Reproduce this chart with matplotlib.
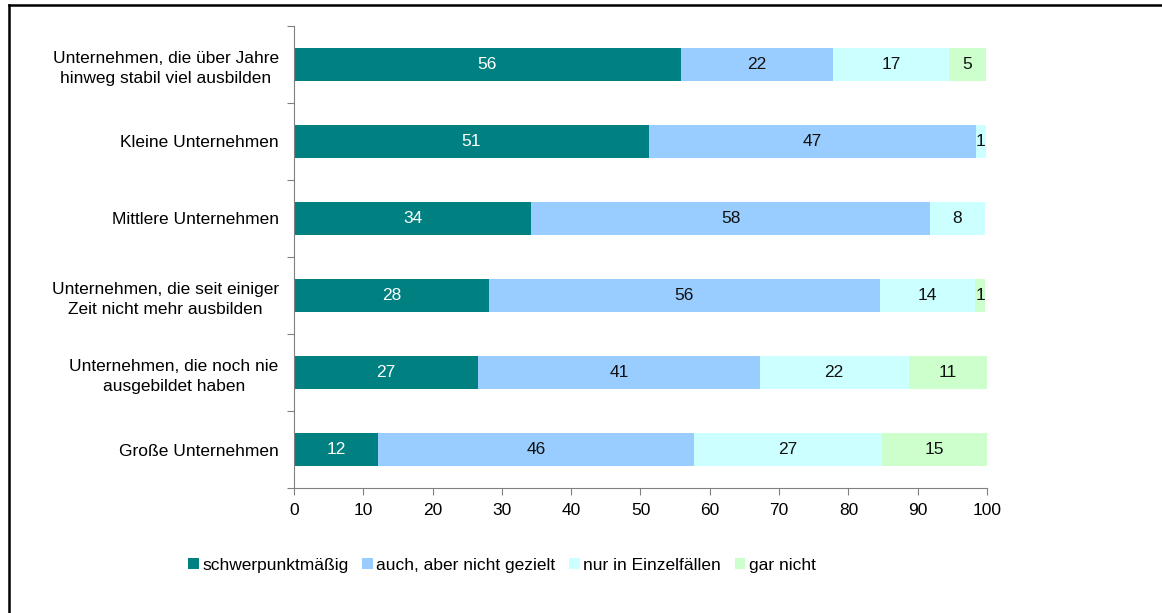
import matplotlib
matplotlib.use("Agg")
import matplotlib.pyplot as plt
from matplotlib.lines import Line2D
import numpy as np

plt.rcParams["font.family"] = ["Liberation Sans", "DejaVu Sans"]
plt.rcParams["font.size"] = 12.5

categories = [
    "Unternehmen, die über Jahre\nhinweg stabil viel ausbilden",
    "Kleine Unternehmen",
    "Mittlere Unternehmen",
    "Unternehmen, die seit einiger\nZeit nicht mehr ausbilden",
    "Unternehmen, die noch nie\nausgebildet haben",
    "Große Unternehmen",
]
series_names = ["schwerpunktmäßig", "auch, aber nicht gezielt", "nur in Einzelfällen", "gar nicht"]
schwerpunkt = [55.8, 51.2, 34.2, 28.1, 26.6, 12.1]
auch = [22.0, 47.2, 57.6, 56.4, 40.6, 45.6]
einzelfaelle = [16.7, 1.4, 7.9, 13.8, 21.5, 27.2]
gar_nicht = [5.4, 0.0, 0.0, 1.4, 11.3, 15.1]

colors = ["#008080", "#99CCFF", "#CCFFFF", "#CCFFCC"]
text_colors = ["white", "#111111", "#111111", "#111111"]

fig = plt.figure(figsize=(11.62, 6.13), dpi=100)
ax = fig.add_axes([0.253, 0.2039, 0.5964, 0.7537])

y = np.arange(len(categories))
left = np.zeros(len(categories))
for name, vals, col, tcol in zip(series_names, [schwerpunkt, auch, einzelfaelle, gar_nicht], colors, text_colors):
    vals = np.array(vals)
    ax.barh(y, vals, left=left, height=0.42, color=col, label=name, edgecolor="none")
    for yi, l, v in zip(y, left, vals):
        if v > 0:
            ax.text(l + v / 2, yi, f"{v:.0f}", ha="center", va="center", color=tcol)
    left += vals

ax.set_xlim(0, 100)
ax.set_ylim(len(categories) - 0.5, -0.5)
ax.set_xticks(np.arange(0, 101, 10))
ax.set_yticks(np.arange(-0.5, len(categories), 1.0))
ax.set_yticklabels([])
ax.set_yticks(y, minor=True)
ax.set_yticklabels(categories, minor=True, linespacing=1.45, multialignment="center")
ax.tick_params(axis="y", which="minor", length=0, pad=11)
ax.tick_params(axis="y", which="major", length=5, color="#808080", direction="out")
ax.tick_params(axis="x", length=5, color="#808080", pad=6)

for s in ["top", "right"]:
    ax.spines[s].set_visible(False)
for s in ["left", "bottom"]:
    ax.spines[s].set_color("#808080")

fig.legend(loc="center", bbox_to_anchor=(0.432, 0.078), ncol=4, frameon=False,
           handlelength=0.6, handleheight=0.6, handletextpad=0.2, columnspacing=0.8)

# outer frame (left and top edges)
x0 = 9 / 1162
y0 = 1 - 5 / 613
fig.add_artist(Line2D([x0, x0], [0, y0], transform=fig.transFigure, color="black", lw=1.8))
fig.add_artist(Line2D([x0, 1], [y0, y0], transform=fig.transFigure, color="black", lw=1.8))

fig.savefig("out.png", dpi=100)
